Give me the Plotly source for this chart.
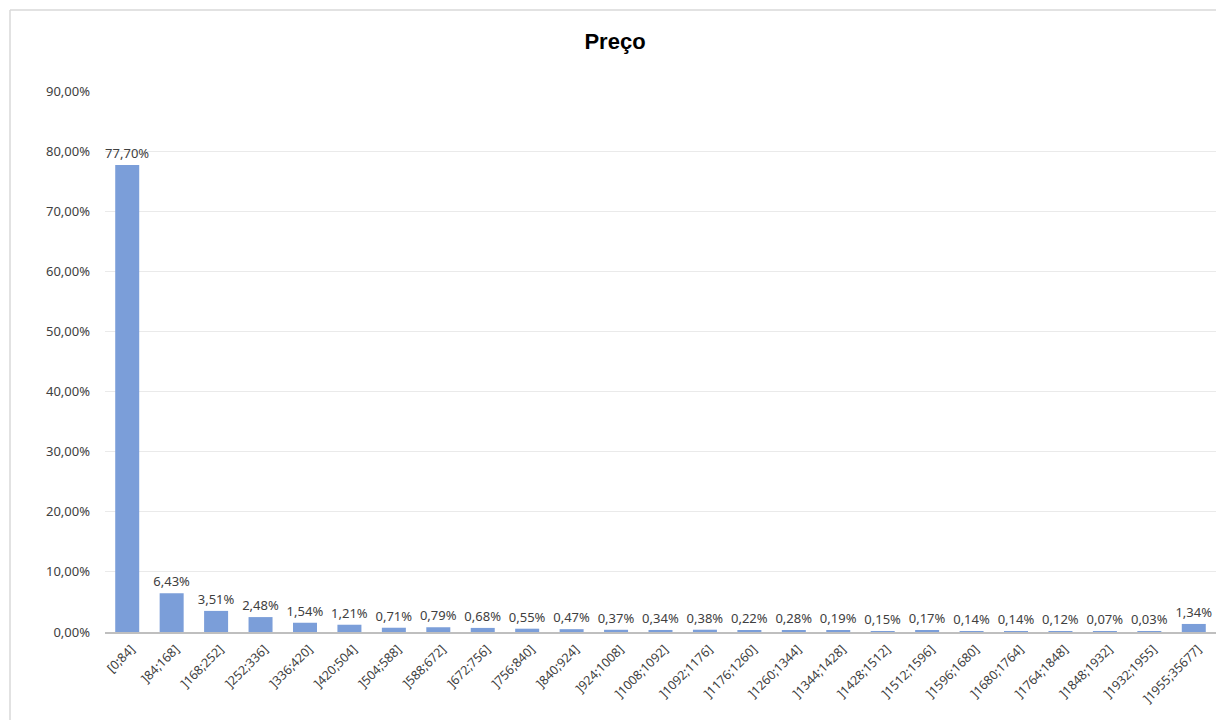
import plotly.graph_objects as go

categories = ["[0;84]", "]84;168]", "]168;252]", "]252;336]", "]336;420]", "]420;504]",
              "]504;588]", "]588;672]", "]672;756]", "]756;840]", "]840;924]", "]924;1008]",
              "]1008;1092]", "]1092;1176]", "]1176;1260]", "]1260;1344]", "]1344;1428]",
              "]1428;1512]", "]1512;1596]", "]1596;1680]", "]1680;1764]", "]1764;1848]",
              "]1848;1932]", "]1932;1955]", "]1955;35677]"]
values_pct = [77.70, 6.43, 3.51, 2.48, 1.54, 1.21, 0.71, 0.79, 0.68, 0.55, 0.47, 0.37,
              0.34, 0.38, 0.22, 0.28, 0.19, 0.15, 0.17, 0.14, 0.14, 0.12, 0.07, 0.03, 1.34]

values = [v / 100 for v in values_pct]

W, H = 1216, 720
L, R, T, B = 105, 0, 91, 88
font = "Noto Sans"
txtcol = "#404040"

fig = go.Figure(go.Bar(
    x=categories, y=values,
    marker=dict(color="#7B9ED9", line=dict(width=0)),
    texttemplate="%{y:.2%}", textposition="outside", constraintext="none",
    textfont=dict(family=font, size=13, color=txtcol),
    cliponaxis=False, width=0.54,
))

pw = W - L - R
ph = H - T - B
fig.update_layout(
    width=W, height=H,
    margin=dict(l=L, r=R, t=T, b=B),
    paper_bgcolor="white", plot_bgcolor="white",
    separators=", ",
    showlegend=False,
    title=dict(text="<b>Preço</b>", x=615 / W, xref="container", xanchor="center",
               y=1 - 41 / H, yref="container", yanchor="middle",
               font=dict(family="Liberation Sans", size=22, color="#000000")),
    xaxis=dict(type="category", tickangle=-45, showgrid=False,
               showline=True, linecolor="#BFBFBF", linewidth=2,
               ticks="", ticklabelshift=4, ticklabelstandoff=3,
               tickfont=dict(family=font, size=12.5, color=txtcol)),
    yaxis=dict(range=[0, 0.9], dtick=0.1, tickformat=".2%",
               showgrid=True, gridcolor="#EAEAEA", gridwidth=1,
               zeroline=False, showline=False, ticks="", ticklabelstandoff=14,
               tickfont=dict(family=font, size=13, color=txtcol)),
    shapes=[
        dict(type="line", xref="paper", yref="paper",
             x0=(10 - L) / pw, x1=(10 - L) / pw, y0=1 + (T - 10) / ph, y1=-B / ph - 0.1,
             line=dict(color="#D9D9D9", width=1.5)),
        dict(type="line", xref="paper", yref="paper",
             x0=(10 - L) / pw, x1=1.1, y0=1 + (T - 10) / ph, y1=1 + (T - 10) / ph,
             line=dict(color="#D9D9D9", width=1.5)),
    ],
)
fig.write_html("out.html")
